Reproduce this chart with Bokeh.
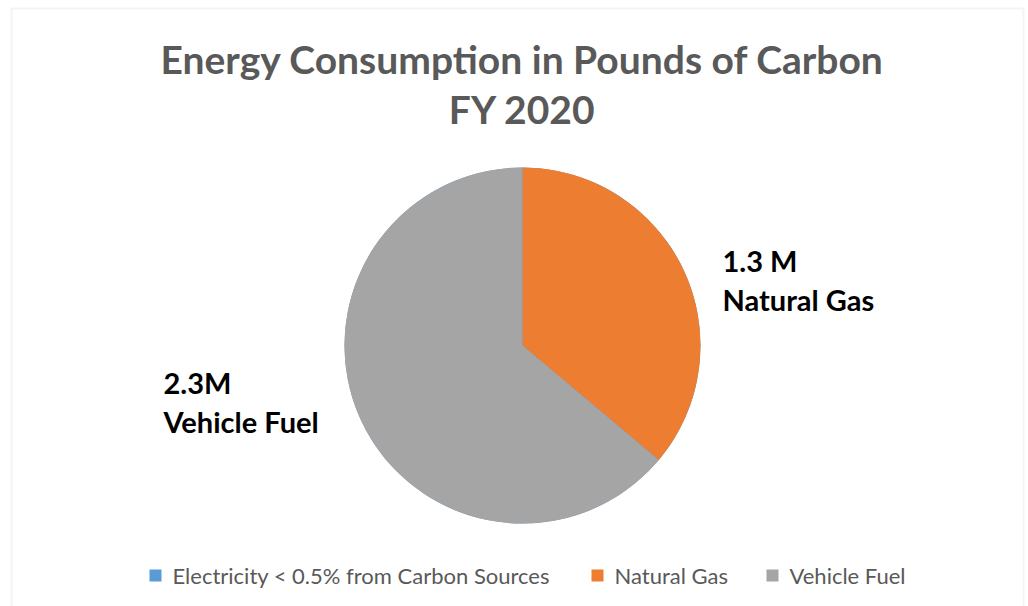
import numpy as np
from bokeh.plotting import figure
from bokeh.models import Range1d, BoxAnnotation, ColumnDataSource
from bokeh.core.properties import value
from bokeh.embed import file_html
from bokeh.resources import INLINE

# Data
categories = ["Electricity < 0.5% from Carbon Sources", "Natural Gas", "Vehicle Fuel"]
values_m = [0.0, 1.3, 2.3]
colors = ["#5B9BD5", "#ED7D31", "#A5A5A5"]
slice_labels = ["", "1.3 M\nNatural Gas", "2.3M\nVehicle Fuel"]
title_lines = ["Energy Consumption in Pounds of Carbon", "FY 2020"]

W, H = 1028, 606
p = figure(width=W, height=H, x_range=Range1d(0, W), y_range=Range1d(0, H),
           output_backend="svg", toolbar_location=None, min_border=0)
p.axis.visible = False
p.grid.visible = False
p.outline_line_color = None
p.background_fill_color = "white"
p.border_fill_color = "white"

# chart border
p.add_layout(BoxAnnotation(left=11, right=1023, top=H - 8, bottom=-20,
                           fill_alpha=0, line_color="#D9D9D9", line_width=2))

# pie
vals = np.array(values_m, dtype=float)
frac = vals / vals.sum()
cum = np.concatenate([[0], np.cumsum(frac)])
start = np.pi / 2 - cum[:-1] * 2 * np.pi
end = np.pi / 2 - cum[1:] * 2 * np.pi
cx, cy, r = 522, H - 345, 178
src = ColumnDataSource(dict(start=start, end=end, color=colors))
p.wedge(x=cx, y=cy, radius=r, start_angle="start", end_angle="end",
        direction="clock", fill_color="color", line_color=None, source=src)

# title
p.text(x=[522, 522], y=[H - 58, H - 108], text=title_lines,
       text_font=value("Lato"), text_font_style="bold", text_font_size="39px",
       text_color="#595959", text_align="center", text_baseline="middle")

# data labels
lab_x = [0, 722, 163]
lab_y = [0, H - 242, H - 364]
p.text(x=lab_x[1:], y=lab_y[1:], text=slice_labels[1:],
       text_font=value("Lato"), text_font_style="bold", text_font_size="29px",
       text_color="black", text_align="left", text_baseline="top",
       text_line_height=1.12)

# legend
leg_sq_x = [155, 597, 772]
leg_y = H - 575
p.rect(x=leg_sq_x, y=[leg_y] * 3, width=12, height=12, fill_color=colors, line_color=None)
p.text(x=[x + 17 for x in leg_sq_x], y=[leg_y] * 3, text=categories,
       text_font=value("Lato"), text_font_size="22px", text_color="#595959",
       text_align="left", text_baseline="middle")

open("out.html", "w").write(file_html(p, INLINE))
